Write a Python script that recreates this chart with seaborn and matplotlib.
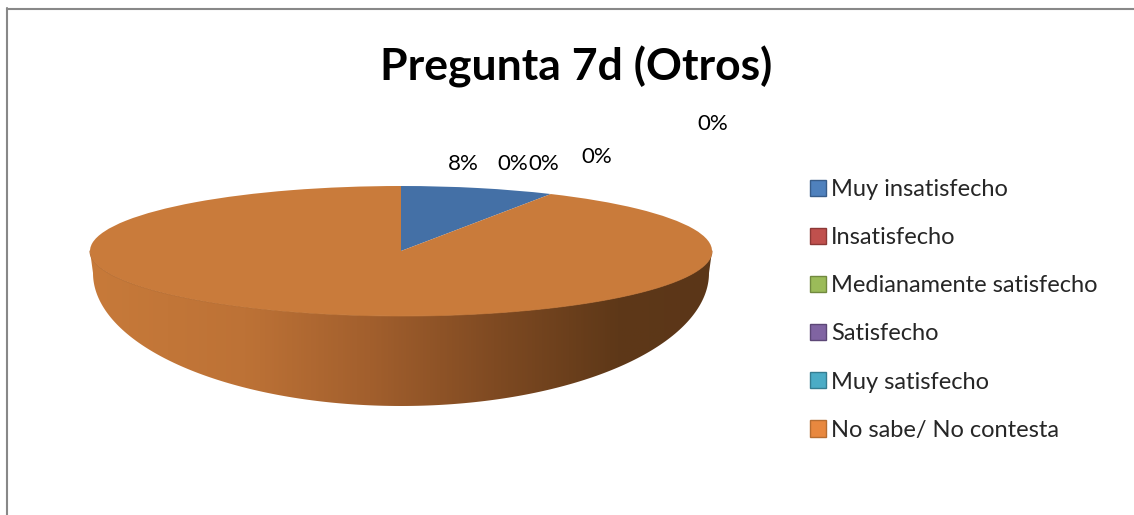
import matplotlib
matplotlib.use("Agg")
import matplotlib.pyplot as plt
import seaborn as sns
from matplotlib.colors import LinearSegmentedColormap
from matplotlib.patches import Polygon, Patch
from matplotlib.lines import Line2D
import numpy as np

# Data
categories = ["Muy insatisfecho", "Insatisfecho", "Medianamente satisfecho",
              "Satisfecho", "Muy satisfecho", "No sabe/ No contesta"]
percentages = [8, 0, 0, 0, 0, 92]
title = "Pregunta 7d (Otros)"

# Colours: shaded pie faces and legend swatches (Office theme)
slice_colors = ["#4470A6", "#B34B48", "#90AE52", "#775D97", "#45A0B8", "#C97B3B"]
legend_colors = ["#4F81BD", "#C0504D", "#9BBB59", "#8064A2", "#4BACC6", "#E8883F"]
legend_edges = ["#385D8A", "#8C3836", "#71893F", "#5C4776", "#357D91", "#B66D31"]

sns.set_theme(style="white")
plt.rcParams["font.family"] = ["Lato", "DejaVu Sans"]

W, H = 1134, 515
fig = plt.figure(figsize=(W / 100, H / 100), dpi=100)
fig.patch.set_facecolor("white")

# pixel-space axes for decorations and text
ax = fig.add_axes([0, 0, 1, 1])
ax.set_xlim(0, W)
ax.set_ylim(H, 0)
ax.axis("off")

# pie geometry (pixels)
cx, cy, a, b = 401, 251, 311, 65
a2, d0, B = 308, 22, 133

# side wall of the 3D pie with horizontal shading
s_top = np.linspace(0, np.pi, 200)
top_edge = np.column_stack([cx + a * np.cos(s_top), cy + b * np.sin(s_top)])
s_bot = np.linspace(np.pi, 0, 200)
bot_edge = np.column_stack([cx + a2 * np.cos(s_bot), cy + d0 + B * np.sin(s_bot)])
wall = Polygon(np.vstack([top_edge, bot_edge]), closed=True, facecolor="none",
               edgecolor="none")
ax.add_patch(wall)
shade = LinearSegmentedColormap.from_list(
    "wall", [(0.0, "#C77A3A"), (0.25, "#BD7236"), (0.45, "#A25F2D"),
             (0.65, "#7F4A22"), (0.85, "#5E3818"), (1.0, "#5B3618")])
grad = np.linspace(0, 1, 512)[None, :]
im = ax.imshow(grad, cmap=shade, extent=(cx - a, cx + a, cy + d0 + B + 2, cy - 2),
               aspect="auto", zorder=1)
im.set_clip_path(wall)
ax.plot(top_edge[:, 0], top_edge[:, 1], color="#B56E34", lw=0.8, zorder=2)
ax.set_xlim(0, W)
ax.set_ylim(H, 0)

# top face: an ordinary pie squashed into an ellipse
pax = fig.add_axes([(cx - a) / W, 1 - (cy + b) / H, 2 * a / W, 2 * b / H])
wedges, texts, autotexts = pax.pie(
    percentages, colors=slice_colors, startangle=90, counterclock=False,
    autopct="%1.0f%%", radius=1, wedgeprops=dict(linewidth=0))
pax.set_aspect("auto")
pax.set_xlim(-1, 1)
pax.set_ylim(-1, 1)
pax.axis("off")

# data label placement (pixels), as Excel laid them out
label_pos = [(463, 164), (513, 164), (544, 164), (597, 157), (713, 124), (327, 292)]
for t, (x, y) in zip(autotexts, label_pos):
    t.set_transform(ax.transData)
    t.set_position((x, y))
    t.set_fontsize(16)
    t.set_color("black")
    t.set_ha("center")
    t.set_va("center")
    t.set_clip_on(False)
    t.remove()
    ax.add_artist(t)

# title
ax.text(576, 80, title, ha="center", va="baseline", fontsize=32,
        fontweight="bold", color="black")

# legend
handles = [Patch(facecolor=c, edgecolor=e, linewidth=1.0)
           for c, e in zip(legend_colors, legend_edges)]
leg = ax.legend(handles, categories, loc="upper left",
                bbox_to_anchor=(810, 179), bbox_transform=ax.transData,
                frameon=False, fontsize=17, handlelength=0.68, handleheight=0.68,
                handletextpad=0.22, labelspacing=1.15, borderpad=0,
                borderaxespad=0)

# chart border (only top and left are inside the picture)
fig.add_artist(Line2D([7 / W, 7 / W], [0, 1 - 8 / H], color="#888888", lw=1.5,
                      transform=fig.transFigure))
fig.add_artist(Line2D([7 / W, 1], [1 - 8.5 / H, 1 - 8.5 / H], color="#888888",
                      lw=1.5, transform=fig.transFigure))

fig.savefig("out.png", dpi=100, facecolor="white")
